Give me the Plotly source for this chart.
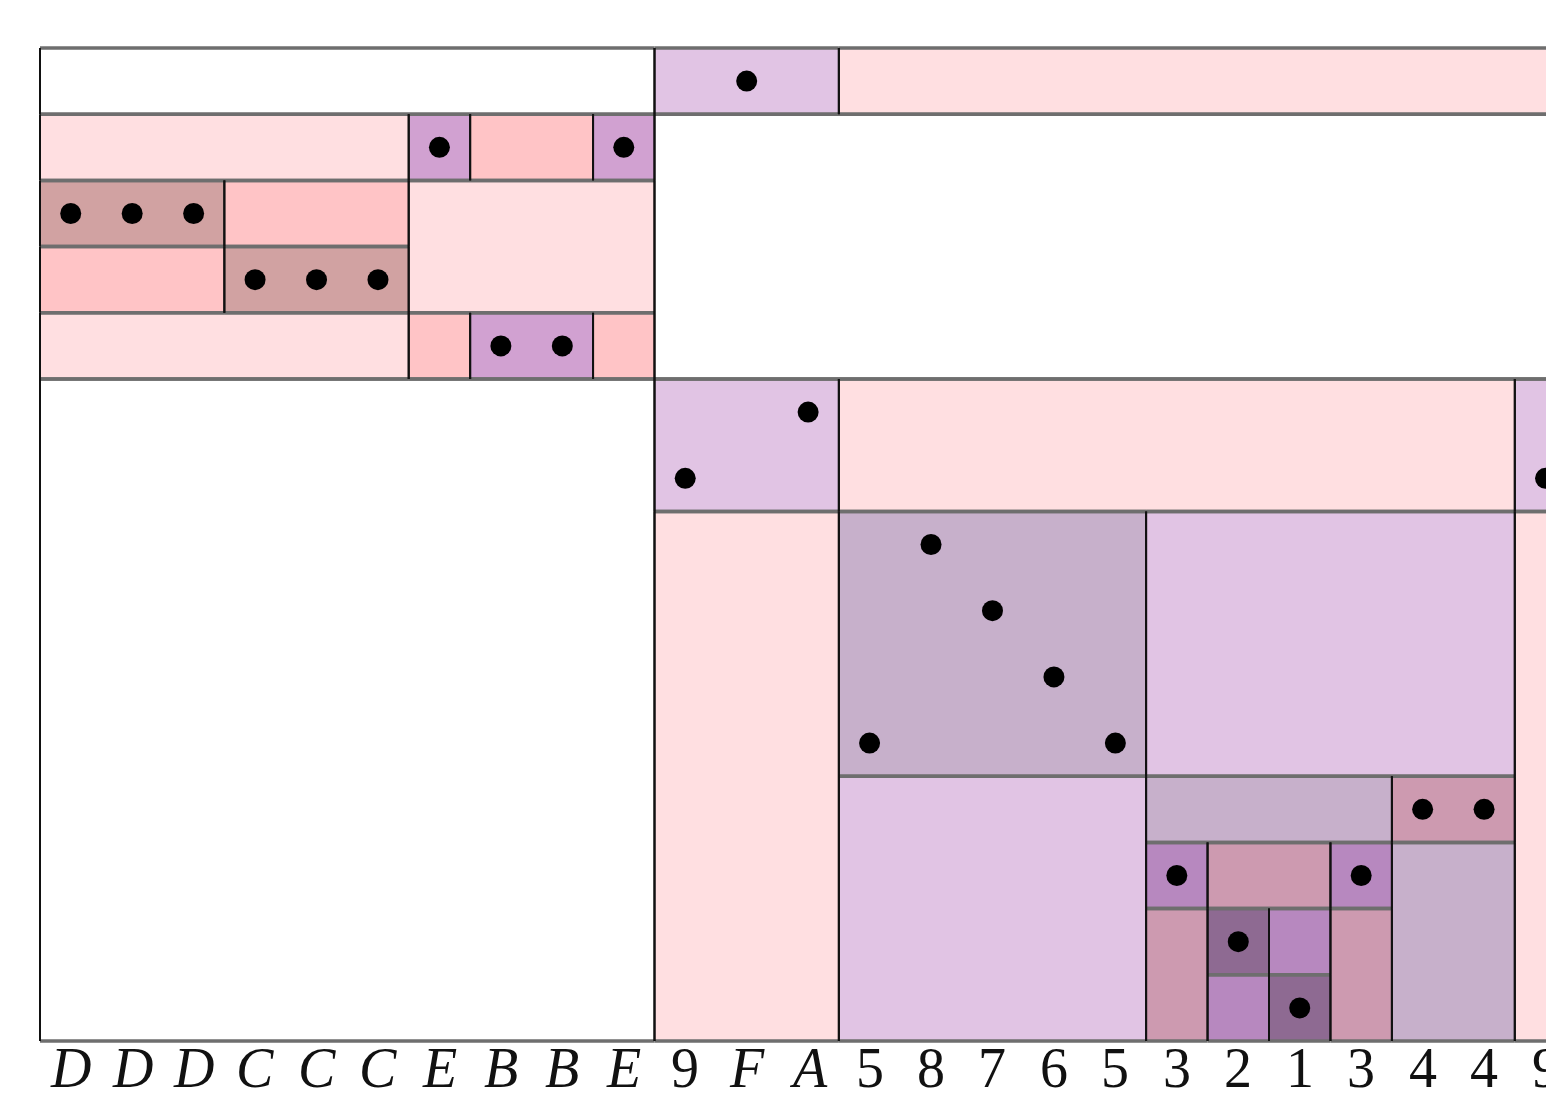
import plotly.graph_objects as go

# ---- data ----
labels = ["D", "D", "D", "C", "C", "C", "E", "B", "B", "E", "9", "F", "A",
          "5", "8", "7", "6", "5", "3", "2", "1", "3", "4", "4", "9"]
dot_rows = [2, 2, 2, 3, 3, 3, 1, 4, 4, 1, 6, 0, 5, 10, 7, 8, 9, 10, 12, 13, 14, 12, 11, 11, 6]

# cells: column start/end, row start/end, colour key
cell_c0 = [0, 10, 0, 10, 13, 0, 6, 7, 9, 0, 3, 6, 0, 3, 0, 6, 7, 9,
           10, 13, 24, 10, 24, 13, 18, 13, 18, 22, 22, 18, 19, 21, 18, 21, 19, 20, 19, 20]
cell_c1 = [10, 25, 10, 13, 25, 6, 7, 9, 10, 3, 6, 10, 3, 6, 6, 7, 9, 10,
           13, 24, 25, 13, 25, 18, 24, 18, 22, 24, 24, 19, 21, 22, 19, 22, 20, 21, 20, 21]
cell_r0 = [0, 1, 5, 0, 0, 1, 1, 1, 1, 2, 2, 2, 3, 3, 4, 4, 4, 4,
           5, 5, 5, 7, 7, 7, 7, 11, 11, 11, 12, 12, 12, 12, 13, 13, 13, 13, 14, 14]
cell_r1 = [1, 5, 15, 1, 1, 2, 2, 2, 2, 3, 3, 4, 4, 4, 5, 5, 5, 5,
           7, 7, 7, 15, 15, 11, 11, 15, 12, 12, 15, 13, 13, 13, 15, 15, 14, 14, 15, 15]
cell_kind = ["white", "white", "white", "lpurple", "lpink", "lpink", "purple", "pink", "purple",
             "brown", "pink", "lpink", "pink", "brown", "lpink", "pink", "purple", "pink",
             "lpurple", "lpink", "lpurple", "lpink", "lpink", "gpurple", "lpurple", "lpurple",
             "gpurple", "dpink", "gpurple", "mpurple", "dpink", "mpurple", "dpink", "dpink",
             "dkpurple", "mpurple", "mpurple", "dkpurple"]

palette = {
    "white": "#ffffff",
    "lpink": "#ffdfe1",
    "pink": "#ffc4c6",
    "lpurple": "#e1c4e4",
    "purple": "#d1a1d1",
    "brown": "#d1a2a2",
    "gpurple": "#c7b0cb",
    "dpink": "#cd9ab0",
    "mpurple": "#b788bf",
    "dkpurple": "#8e6a92",
}

fig = go.Figure()

shapes = []
for c0, c1, r0, r1, k in zip(cell_c0, cell_c1, cell_r0, cell_r1, cell_kind):
    shapes.append(dict(type="rect", xref="x", yref="y", x0=c0, x1=c1, y0=r0, y1=r1,
                       fillcolor=palette[k], line=dict(width=0), layer="below"))

# edges
hx, hy, vx, vy = [], [], [], []
for c0, c1, r0, r1 in zip(cell_c0, cell_c1, cell_r0, cell_r1):
    for r in (r0, r1):
        hx += [c0, c1, None]
        hy += [r, r, None]
    for c in (c0, c1):
        vx += [c, c, None]
        vy += [r0, r1, None]

fig.add_trace(go.Scatter(x=hx, y=hy, mode="lines", line=dict(color="#6e6e6e", width=3.5),
                         hoverinfo="skip", showlegend=False))
fig.add_trace(go.Scatter(x=vx, y=vy, mode="lines", line=dict(color="#111111", width=2),
                         hoverinfo="skip", showlegend=False))

# dots
fig.add_trace(go.Scatter(x=[i + 0.5 for i in range(len(dot_rows))],
                         y=[r + 0.5 for r in dot_rows], mode="markers",
                         marker=dict(color="black", size=21, line=dict(width=0)),
                         hoverinfo="skip", showlegend=False))

annotations = []
for i, lab in enumerate(labels):
    txt = lab if lab.isdigit() else "<i>" + lab + "</i>"
    annotations.append(dict(x=i + 0.5, y=15.41, xref="x", yref="y", text=txt, showarrow=False,
                            font=dict(family="Liberation Serif", size=56, color="#111111"),
                            xanchor="center", yanchor="middle"))

W, H = 1546, 1093
X0, Y0 = 32, 40          # pixel position of grid origin inside the figure
CW, RH = 61.45, 66.2     # column width / row height in pixels

fig.update_layout(
    width=W, height=H,
    margin=dict(l=0, r=0, t=0, b=0),
    paper_bgcolor="white", plot_bgcolor="white",
    shapes=shapes, annotations=annotations,
    xaxis=dict(range=[-X0 / CW, (W - X0) / CW], visible=False, fixedrange=True),
    yaxis=dict(range=[(H - Y0) / RH, -Y0 / RH], visible=False, fixedrange=True),
)

fig.write_html("out.html")
